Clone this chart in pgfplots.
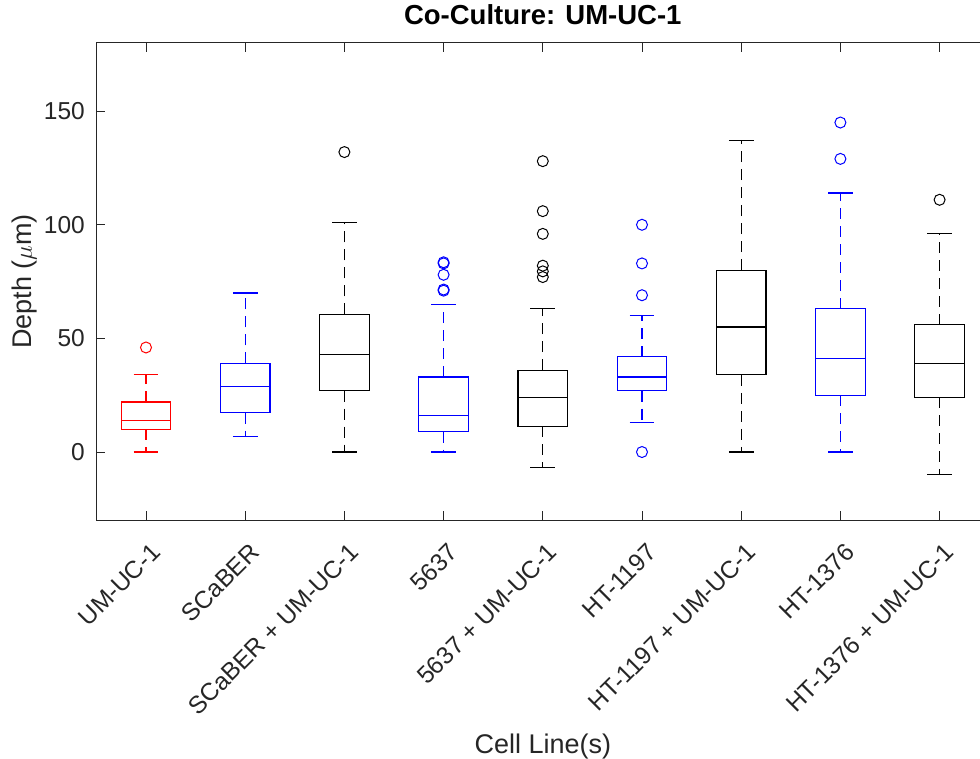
\documentclass[border=0pt]{standalone}
\usepackage{fontspec}
\setmainfont{Liberation Sans}
\usepackage{pgfplots}
\pgfplotsset{compat=1.18}
\usepgfplotslibrary{statistics}

\definecolor{axgray}{RGB}{38,38,38}
\definecolor{mred}{RGB}{255,0,0}
\definecolor{mblue}{RGB}{0,0,255}

% MATLAB-like whiskers: dashed stem, solid cap
\pgfplotsset{
  boxplot/draw/lower whisker/.code={
    \draw[dash pattern=on 11pt off 7pt]
      (boxplot box cs:\pgfplotsboxplotvalue{lower quartile},0.5) --
      (boxplot box cs:\pgfplotsboxplotvalue{lower whisker},0.5);
    \draw (boxplot whisker cs:\pgfplotsboxplotvalue{lower whisker},0) --
      (boxplot whisker cs:\pgfplotsboxplotvalue{lower whisker},1);
  },
  boxplot/draw/upper whisker/.code={
    \draw[dash pattern=on 11pt off 7pt]
      (boxplot box cs:\pgfplotsboxplotvalue{upper quartile},0.5) --
      (boxplot box cs:\pgfplotsboxplotvalue{upper whisker},0.5);
    \draw (boxplot whisker cs:\pgfplotsboxplotvalue{upper whisker},0) --
      (boxplot whisker cs:\pgfplotsboxplotvalue{upper whisker},1);
  },
}

\begin{document}
\begin{tikzpicture}
\begin{axis}[
  at={(96.4pt,238.8pt)}, anchor=south west,
  scale only axis, width=892.8pt, height=477.2pt,
  xmin=0.5, xmax=9.5, ymin=-30, ymax=180,
  xtick={1,2,3,4,5,6,7,8,9},
  xticklabels={UM-UC-1,SCaBER,SCaBER + UM-UC-1,5637,5637 + UM-UC-1,HT-1197,HT-1197 + UM-UC-1,HT-1376,HT-1376 + UM-UC-1},
  ytick={0,50,100,150},
  tick align=inside, major tick length=9pt,
  axis line style={axgray, line width=1pt},
  every tick/.style={axgray, line width=1pt},
  tick label style={font=\fontsize{24.5}{28}\selectfont, text=axgray},
  /pgf/number format/assume math mode=true,
  xticklabel style={xshift=10pt, yshift=-28pt, rotate=45, anchor=east, inner sep=0pt},
  yticklabel style={anchor=east, inner sep=0pt, xshift=-11.4pt},
  title={Co-Culture: UM-UC-1},
  title style={at={(axis description cs:0.5,1.0252)}, anchor=base, font=\bfseries\fontsize{27.5}{32}\selectfont},
  xlabel={Cell Line(s)},
  xlabel style={at={(axis description cs:0.5,-0.4885)}, anchor=base, font=\fontsize{27}{32}\selectfont, text=axgray},
  ylabel={Depth ($\mu$m)},
  ylabel style={at={(axis description cs:-0.0722,0.5)}, anchor=base, font=\fontsize{27}{32}\selectfont, text=axgray},
  boxplot/draw direction=y,
  boxplot/box extend=0.5,
  boxplot/whisker extend=0.25,
  every axis plot/.append style={line width=1.1pt, mark=o, mark size=5.5pt, mark options={solid, line width=1pt}},
]
\addplot[mred, boxplot prepared={draw position=1, lower whisker=0, lower quartile=10, median=14, upper quartile=22, upper whisker=34}]
  coordinates {(1,46)};
\addplot[mblue, boxplot prepared={draw position=2, lower whisker=7, lower quartile=17.3, median=29, upper quartile=39, upper whisker=70}]
  coordinates {};
\addplot[black, boxplot prepared={draw position=3, lower whisker=0, lower quartile=27, median=43, upper quartile=60.6, upper whisker=101}]
  coordinates {(3,132)};
\addplot[mblue, boxplot prepared={draw position=4, lower whisker=0, lower quartile=9, median=16, upper quartile=33, upper whisker=65}]
  coordinates {(4,71) (4,71.5) (4,78) (4,83) (4,83.5)};
\addplot[black, boxplot prepared={draw position=5, lower whisker=-7, lower quartile=11.3, median=24, upper quartile=36, upper whisker=63}]
  coordinates {(5,77) (5,79.5) (5,82) (5,96) (5,106) (5,128)};
\addplot[mblue, boxplot prepared={draw position=6, lower whisker=13, lower quartile=27, median=33, upper quartile=42, upper whisker=60}]
  coordinates {(6,0) (6,69) (6,83) (6,100)};
\addplot[black, boxplot prepared={draw position=7, lower whisker=0, lower quartile=34, median=55, upper quartile=80, upper whisker=137}]
  coordinates {};
\addplot[mblue, boxplot prepared={draw position=8, lower whisker=0, lower quartile=25, median=41, upper quartile=63, upper whisker=114}]
  coordinates {(8,129) (8,145)};
\addplot[black, boxplot prepared={draw position=9, lower whisker=-10, lower quartile=24, median=39, upper quartile=56, upper whisker=96}]
  coordinates {(9,111)};
\end{axis}
\pgfresetboundingbox
\useasboundingbox (0pt,0pt) rectangle (980pt,759pt);
\end{tikzpicture}
\end{document}
